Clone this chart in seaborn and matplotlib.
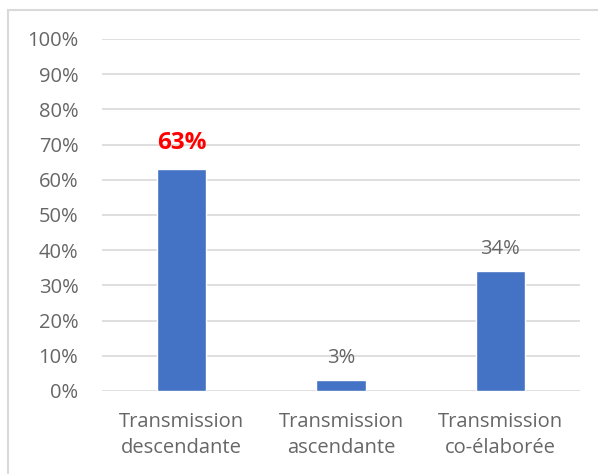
import matplotlib
matplotlib.use("Agg")
import matplotlib.pyplot as plt
import seaborn as sns
import pandas as pd
from matplotlib.patches import Rectangle
from matplotlib.ticker import MultipleLocator, PercentFormatter

# données
categories = ["Transmission\ndescendante", "Transmission\nascendante", "Transmission\nco-élaborée"]
valeurs = [0.63, 0.03, 0.34]
etiquettes = ["63%", "3%", "34%"]

df = pd.DataFrame({"categorie": categories, "valeur": valeurs})

sns.set_style("white")
plt.rcParams["font.family"] = ["Open Sans", "DejaVu Sans"]

fig = plt.figure(figsize=(5.98, 4.74), dpi=100)
ax = fig.add_axes([102 / 598, 1 - 391 / 474, 478 / 598, 352 / 474])

sns.barplot(data=df, x="categorie", y="valeur", color="#4472C4",
            saturation=1, width=0.31, ax=ax, zorder=3)

gris = "#666666"
ax.set_ylim(0, 1.0)
ax.yaxis.set_major_locator(MultipleLocator(0.1))
ax.yaxis.set_major_formatter(PercentFormatter(1.0, decimals=0))
ax.grid(axis="y", color="#D9D9D9", linewidth=1.2, zorder=0)
ax.set_axisbelow(True)
for s in ax.spines.values():
    s.set_visible(False)
ax.set_xlabel("")
ax.set_ylabel("")
ax.tick_params(axis="both", length=0, colors=gris, labelsize=14.5)
ax.tick_params(axis="y", pad=17)
ax.tick_params(axis="x", pad=15)
for lbl in ax.get_xticklabels():
    lbl.set_linespacing(1.42)

# étiquettes de données
for i, (v, t) in enumerate(zip(valeurs, etiquettes)):
    if i == 0:
        ax.annotate(t, (i, v), xytext=(0, 10), textcoords="offset points",
                    ha="center", va="bottom", color="#FF0000",
                    fontsize=17.5, fontweight="bold")
    else:
        ax.annotate(t, (i, v), xytext=(0, 9), textcoords="offset points",
                    ha="center", va="bottom", color=gris, fontsize=14.5)

# cadre du graphique
fig.patches.append(Rectangle((8 / 598, -0.1), 1.2, 1 - 10 / 474 + 0.1,
                             transform=fig.transFigure, fill=False,
                             edgecolor="#D9D9D9", linewidth=1.5))

fig.savefig("out.png", dpi=100)
